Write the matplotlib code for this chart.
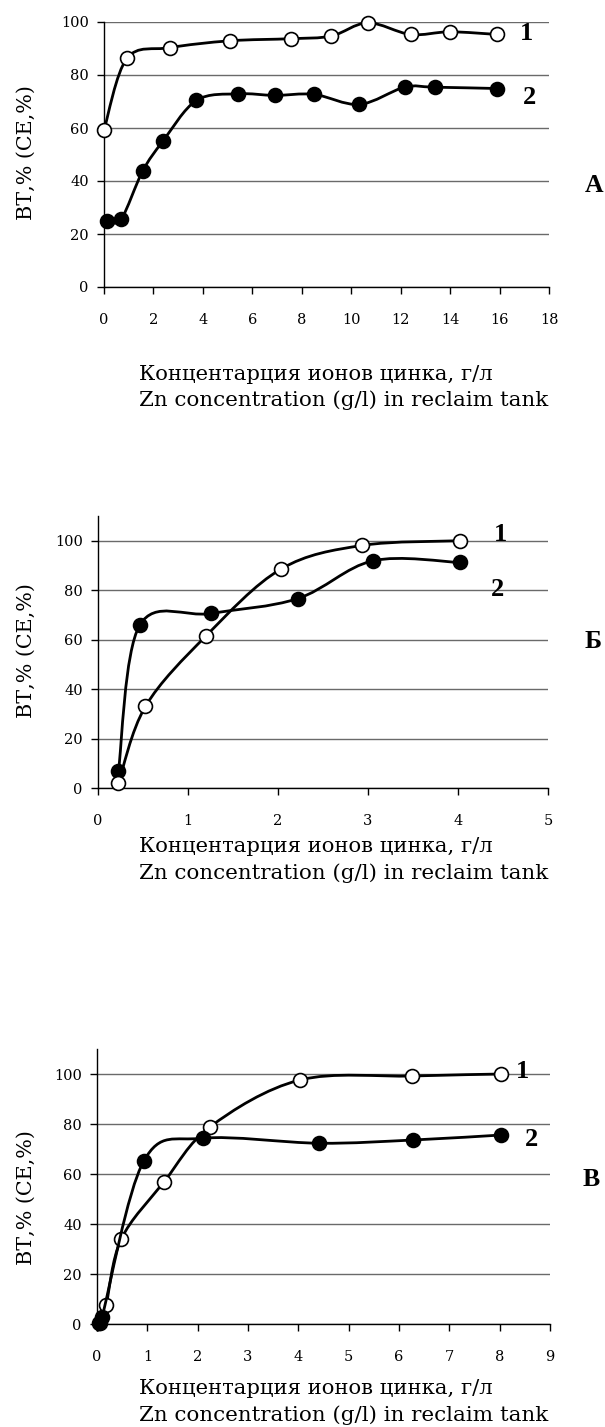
import numpy as np
import matplotlib
matplotlib.use('Agg')
import matplotlib.pyplot as plt
from matplotlib.path import Path
from matplotlib.patches import PathPatch

# ---------------- data ----------------
# Panel А
a_x1 = [0.0, 0.93, 2.65, 5.08, 7.56, 9.19, 10.67, 12.4, 13.98, 15.9]
a_y1 = [59.2, 86.3, 90.3, 92.9, 93.7, 94.7, 99.7, 95.3, 96.3, 95.3]
a_x2 = [0.12, 0.70, 1.56, 2.38, 3.74, 5.42, 6.93, 8.49, 10.33, 12.16, 13.37, 15.9]
a_y2 = [24.8, 25.7, 43.7, 55.0, 70.4, 72.9, 72.3, 72.7, 68.9, 75.4, 75.4, 74.9]
a_xticks = [0, 2, 4, 6, 8, 10, 12, 14, 16, 18]

# Panel Б
b_x1 = [0.227, 0.527, 1.20, 2.035, 2.935, 4.02]
b_y1 = [1.9, 33.0, 61.5, 88.6, 98.1, 100.0]
b_x2 = [0.227, 0.463, 1.255, 2.22, 3.055, 4.02]
b_y2 = [6.8, 65.8, 70.6, 76.6, 91.9, 91.2]
b_xticks = [0, 1, 2, 3, 4, 5]

# Panel В
c_x1 = [0.05, 0.18, 0.48, 1.33, 2.25, 4.03, 6.26, 8.03]
c_y1 = [0.5, 7.6, 33.9, 56.8, 78.9, 97.6, 99.2, 100.0]
c_x2 = [0.03, 0.10, 0.93, 2.10, 4.42, 6.28, 8.03]
c_y2 = [0.4, 2.8, 65.2, 74.3, 72.3, 73.6, 75.6]
c_xticks = [0, 1, 2, 3, 4, 5, 6, 7, 8, 9]

yticks = [0, 20, 40, 60, 80, 100]
ylabel = "ВТ,% (CE,%)"
xlabel1 = "Концентарция ионов цинка, г/л"
xlabel2 = "Zn concentration (g/l) in reclaim tank"
curve_labels = ["1", "2"]
panel_labels = ["А", "Б", "В"]

# ---------------- figure ----------------
W, H = 605, 1427
fig = plt.figure(figsize=(W / 100, H / 100), dpi=100)
SERIF = ['DejaVu Serif']
BOLD = ['Liberation Serif', 'DejaVu Serif']


def fx(x):
    return x / W


def fy(y):
    return 1 - y / H


def px_axes(left, right, top, bottom):
    return fig.add_axes([left / W, 1 - bottom / H, (right - left) / W, (bottom - top) / H])


def smooth_path(xs, ys):
    pts = np.column_stack([xs, ys]).astype(float)
    n = len(pts)
    verts = [pts[0]]
    codes = [Path.MOVETO]
    for i in range(n - 1):
        p0 = pts[i - 1] if i > 0 else pts[i]
        p1 = pts[i]
        p2 = pts[i + 1]
        p3 = pts[i + 2] if i + 2 < n else pts[i + 1]
        c1 = p1 + (p2 - p0) / 6.0
        c2 = p2 - (p3 - p1) / 6.0
        verts += [c1, c2, p2]
        codes += [Path.CURVE4] * 3
    return Path(verts, codes)


def draw_series(ax, xs, ys, filled, z):
    ax.add_patch(PathPatch(smooth_path(xs, ys), facecolor='none', edgecolor='black',
                           lw=2.0, zorder=z, clip_on=False, capstyle='round', joinstyle='round'))
    ax.plot(xs, ys, 'o', ms=10, mfc='black' if filled else 'white', mec='black',
            mew=1.2, zorder=z + 0.5, clip_on=False)


renderer = fig.canvas.get_renderer()


def fit(t, target, dim='w'):
    for _ in range(4):
        bb = t.get_window_extent(renderer)
        cur = bb.width if dim == 'w' else bb.height
        t.set_fontsize(t.get_fontsize() * target / cur)


def setup(ax, xmax, xticks, ytop):
    ax.set_xlim(0, xmax)
    ax.set_ylim(0, ytop)
    ax.set_xticks(xticks)
    ax.set_yticks(yticks)
    for s in ['top', 'right']:
        ax.spines[s].set_visible(False)
    for s in ['left', 'bottom']:
        ax.spines[s].set_linewidth(1.0)
        ax.spines[s].set_color('black')
    ax.yaxis.grid(True, color='#6a6a6a', lw=1.0)
    ax.set_axisbelow(True)
    ax.tick_params(axis='x', direction='out', length=5, width=1, pad=13.5, labelsize=10.5)
    ax.tick_params(axis='y', direction='out', length=5, width=1, pad=6.0, labelsize=10.5)
    for lab in ax.get_xticklabels() + ax.get_yticklabels():
        lab.set_family(SERIF)


panels = [
    dict(box=(104, 549, 22, 287), xmax=18, xt=a_xticks, ytop=100,
         s1=(a_x1, a_y1), s2=(a_x2, a_y2), order=(1, 2),
         lab1=(527, 33), lab2=(529, 98), plab=(594, 185), ylab_y=153,
         xl1=375, xl2=400),
    dict(box=(98, 548, 516, 788), xmax=5, xt=b_xticks, ytop=110,
         s1=(b_x1, b_y1), s2=(b_x2, b_y2), order=(2, 1),
         lab1=(501, 535), lab2=(498, 590), plab=(593, 642), ylab_y=651,
         xl1=846, xl2=873),
    dict(box=(97, 550, 1049, 1324), xmax=9, xt=c_xticks, ytop=110,
         s1=(c_x1, c_y1), s2=(c_x2, c_y2), order=(1, 2),
         lab1=(523, 1071), lab2=(531, 1140), plab=(591, 1180), ylab_y=1198,
         xl1=1388, xl2=1415),
]

for i, p in enumerate(panels):
    l, r, t, b = p['box']
    ax = px_axes(l, r, t, b)
    setup(ax, p['xmax'], p['xt'], p['ytop'])
    z1, z2 = (3, 5) if p['order'] == (1, 2) else (5, 3)
    draw_series(ax, *p['s1'], filled=False, z=z1)
    draw_series(ax, *p['s2'], filled=True, z=z2)

    for lab, pos in zip(curve_labels, [p['lab1'], p['lab2']]):
        fig.text(fx(pos[0]), fy(pos[1]), lab, family=BOLD, weight='bold',
                 fontsize=19, ha='center', va='center')
    fig.text(fx(p['plab'][0]), fy(p['plab'][1]), panel_labels[i], family=BOLD,
             weight='bold', fontsize=18.5, ha='center', va='center')

    yl = fig.text(fx(26), fy(p['ylab_y']), ylabel, family=SERIF, rotation=90,
                  fontsize=14, ha='center', va='center')
    fit(yl, 135, 'h')

    t1 = fig.text(fx(139), fy(p['xl1']), xlabel1, family=SERIF, fontsize=12.5,
                  ha='left', va='center')
    fit(t1, 354, 'w')
    t2 = fig.text(fx(139), fy(p['xl2']), xlabel2, family=SERIF, fontsize=12.5,
                  ha='left', va='center')
    fit(t2, 410, 'w')

fig.savefig('out.png', dpi=100)
